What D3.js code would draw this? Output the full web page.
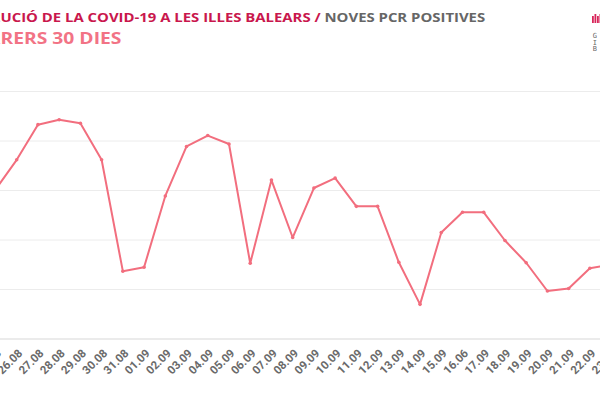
<!DOCTYPE html>
<html><head><meta charset="utf-8">
<script src="https://cdn.jsdelivr.net/npm/d3@7"></script>
<style>
html,body{margin:0;padding:0;background:#fff;overflow:hidden}
svg{display:block;font-family:Roboto,"Noto Sans",sans-serif}
</style></head><body>
<svg id="c" width="600" height="400"></svg>
<script>
const dates = ["25.08","26.08","27.08","28.08","29.08","30.08","31.08","01.09","02.09","03.09","04.09","05.09","06.09","07.09","08.09","09.09","10.09","11.09","12.09","13.09","14.09","15.09","16.06","17.09","18.09","19.09","20.09","21.09","22.09","23.09"];
const values = [302,362,433,443,436,362,137,145,289,389,411,394,153,321,205,305,325,268,268,155,70,215,256,256,199,154,97,102,143,150];
const yTicks = [0,100,200,300,400,500];
const titleMain = "EVOLUCIÓ DE LA COVID-19 A LES ILLES BALEARS";
const titleSecond = "NOVES PCR POSITIVES";
const subtitle = "DARRERS 30 DIES";
const logoLines = ["GOVERN","ILLES","BALEARS"];

const svg = d3.select("#c");
const lineColor = "#f26e7e";

const x = d3.scalePoint().domain(dates).range([-4.53, 611.1]);
const y = d3.scaleLinear().domain([0,500]).range([339, 91.5]);

// gridlines
svg.append("g").selectAll("line").data(yTicks.filter(d=>d>0)).join("line")
  .attr("x1",0).attr("x2",600)
  .attr("y1",d=>y(d)).attr("y2",d=>y(d))
  .attr("stroke","#ececec").attr("stroke-width",1);
// baseline
svg.append("line").attr("x1",0).attr("x2",600).attr("y1",y(0)).attr("y2",y(0))
  .attr("stroke","#e4e4e4").attr("stroke-width",1.6);

// x axis
const xAxis = d3.axisBottom(x).tickSize(0).tickPadding(0);
const gx = svg.append("g").attr("transform",`translate(0,${y(0)})`).call(xAxis);
gx.select(".domain").remove();
gx.selectAll("text")
  .attr("font-family","Roboto, sans-serif").attr("font-weight",700)
  .attr("font-size",11.5).attr("fill","#6a6a6a")
  .attr("text-anchor","end").attr("dy",0)
  .attr("transform","translate(6,15) rotate(-45)");

// line
const line = d3.line().x((d,i)=>x(dates[i])).y(d=>y(d));
svg.append("path").datum(values).attr("d",line)
  .attr("fill","none").attr("stroke",lineColor).attr("stroke-width",2)
  .attr("stroke-linejoin","round");
svg.append("g").selectAll("circle").data(values).join("circle")
  .attr("cx",(d,i)=>x(dates[i])).attr("cy",d=>y(d)).attr("r",1.8)
  .attr("fill",lineColor);

// titles: hidden prefix left of the edge, visible part stretched horizontally to target width
function fitText(sel, hiddenChars, targetVisible, yBase){
  const n = sel.node();
  const total = n.getComputedTextLength();
  const hid = n.getSubStringLength(0, hiddenChars);
  const s = targetVisible / (total - hid);
  sel.attr("x", 0).attr("y", 0)
     .attr("transform", `translate(0.5,${yBase}) scale(${s},1) translate(${-hid},0)`);
}
const title = svg.append("text")
  .attr("font-family","'Open Sans', sans-serif")
  .attr("font-size",12).attr("font-weight",700);
title.append("tspan").attr("fill","#c9174d").text(titleMain + " /");
title.append("tspan").attr("fill","#666").text(" " + titleSecond);
fitText(title, 4, 485, 22.3);

const sub = svg.append("text")
  .attr("font-family","'Open Sans', sans-serif")
  .attr("font-size",15.5).attr("font-weight",700).attr("fill","#f27385")
  .text(subtitle);
fitText(sub, 3, 121, 44.4);

// logo
const logo = svg.append("g").attr("transform","translate(592,14)");
[0,2.5,5,7.5].forEach((dx,i)=>{
  logo.append("rect").attr("x",dx).attr("y",i%2?0:2).attr("width",1.8).attr("height",i%2?9:7).attr("fill","#d8265a");
});
logo.selectAll("text.l").data(logoLines).join("text").attr("class","l")
  .attr("x",0.8).attr("y",(d,i)=>24.3+i*6.3).attr("font-size",7).attr("letter-spacing",4)
  .attr("font-family","DejaVu Sans Mono, monospace").attr("fill","#666").text(d=>d);
</script>
</body></html>
